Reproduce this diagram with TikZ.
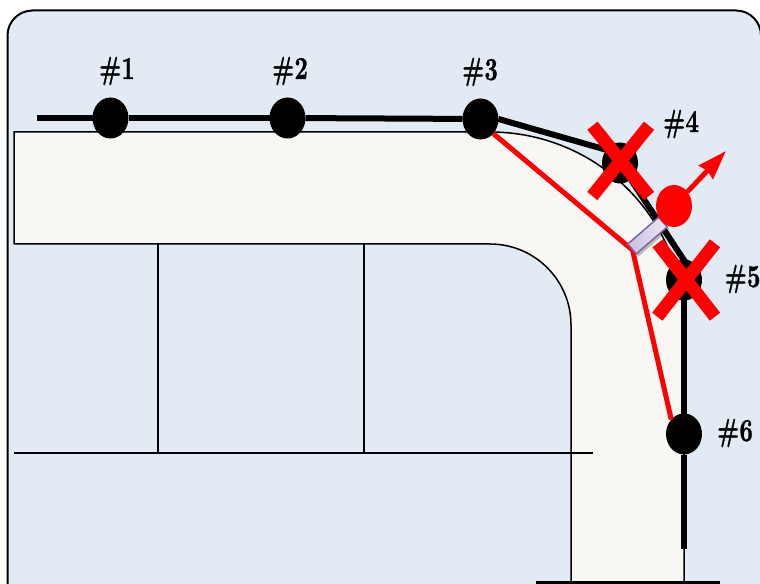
\documentclass[tikz,border=0pt]{standalone}
\usepackage{fontspec}
\usetikzlibrary{shapes.geometric,arrows.meta,shadows}
\newfontfamily\stopfont[BoldFeatures={FakeBold=1.2}]{Latin Modern Roman}
\definecolor{skyfill}{HTML}{E2EAF4}
\definecolor{roadfill}{HTML}{F8F7F3}
\definecolor{padedge}{HTML}{8064A2}
\definecolor{padlo}{HTML}{C9BEE0}
\definecolor{padhi}{HTML}{EDEAF5}
\newcommand{\stoptext}[1]{\scalebox{1.75}[2.4]{#1}}
\tikzset{
  px/.style={line width=#1*0.75pt},
  frameline/.style={draw=black,fill=skyfill,px=2},
  roadline/.style={draw=black,fill=roadfill,px=1.5},
  thinline/.style={draw=black,px=1.5},
  trackline/.style={draw=black,px=6},
  redline/.style={draw=red,px=5},
  crossbar/.style={draw=red,px=13},
  stopdot/.style={ellipse,fill=black,inner sep=0pt,outer sep=0pt,minimum width=36*0.75pt,minimum height=41*0.75pt},
  movingdot/.style={ellipse,fill=red,inner sep=0pt,outer sep=0pt,minimum width=36*0.75pt,minimum height=42*0.75pt},
  stoplabel/.style={inner sep=0pt,font=\stopfont\fontsize{10}{12}\selectfont\bfseries},
  padbox/.style={rectangle,draw=padedge,px=1.5,inner sep=0pt,minimum width=41*0.75pt,minimum height=13*0.75pt,
    left color=padlo,right color=padhi,rotate=41,
    drop shadow={shadow xshift=1.5pt,shadow yshift=-2pt,opacity=.25,fill=black}}
}
\begin{document}
\begin{tikzpicture}[x=0.75pt,y=-0.75pt]
\useasboundingbox (0,0) rectangle (760,584);
\clip (0,0) rectangle (760,584);
% panel
\path[frameline] (7.5,620) -- (7.5,35.5) .. controls (7.5,21.7) and (18.7,10.5) .. (32.5,10.5)
  -- (736,10.5) .. controls (749.8,10.5) and (761,21.7) .. (761,35.5) -- (761,620) -- cycle;
% road
\path[roadline] (14,132) -- (490,132) .. controls (597,132) and (684,218) .. (684,325)
  -- (684,582) -- (571,582) -- (571,325) .. controls (571,280.3) and (534.7,244) .. (490,244)
  -- (14,244) -- cycle;
\coordinate (baseA) at (14,453);
\coordinate (baseB) at (593,453);
\coordinate (postAtop) at (158,244);
\coordinate (postAbot) at (158,453);
\coordinate (postBtop) at (364,244);
\coordinate (postBbot) at (364,453);
\coordinate (groundA) at (536,582);
\coordinate (groundB) at (720,582);
\draw[thinline] (baseA) -- (baseB);
\draw[thinline] (postAtop) -- (postAbot);
\draw[thinline] (postBtop) -- (postBbot);
\draw[draw=black,px=3] (groundA) -- (groundB);
% stops
\node[stopdot] (n1) at (110.5,118) {};
\node[stopdot] (n2) at (287.5,118) {};
\node[stopdot] (n3) at (480.5,119) {};
\node[stopdot] (n4) at (620,163) {};
\node[stopdot] (n5) at (684,280) {};
\node[stopdot] (n6) at (684,434) {};
% track
\coordinate (trackstart) at (37,118);
\coordinate (trackend) at (684,549);
\coordinate (trackturn) at (684.5,261);
\coordinate (trackfour) at (607,150);
\draw[trackline] (trackstart) -- (n1);
\draw[trackline] (n1) -- (n2);
\draw[trackline] (n2) -- (n3);
\draw[trackline] (n3.east) -- (trackfour);
\draw[trackline,line join=round] (n4) -- (trackturn) -- (n5);
\draw[trackline] (n5) -- (n6);
\draw[trackline] (n6) -- (trackend);
% red signal path
\coordinate (bounce) at (632.5,250);
\draw[redline,line join=round] (n3.south east) -- (bounce) -- (n6.north west);
% reflecting pad
\node[padbox] (pad) at (647.5,235.5) {};
% moving dot and its arrow
\node[movingdot] (mover) at (674,206) {};
\coordinate (movertip) at (726,151);
\draw[draw=red,px=5,-{Triangle[length=29*0.75pt,width=19*0.75pt,inset=2*0.75pt]}] (mover) -- (movertip);
% crosses
\coordinate (xa1) at (592.5,125.7);
\coordinate (xa2) at (649,196);
\coordinate (xa3) at (649,125.7);
\coordinate (xa4) at (592.3,196);
\coordinate (xb1) at (657.7,243.3);
\coordinate (xb2) at (715,316.7);
\coordinate (xb3) at (715,243.3);
\coordinate (xb4) at (657.3,316.7);
\draw[crossbar] (xa1) -- (xa2);
\draw[crossbar] (xa3) -- (xa4);
\draw[crossbar] (xb1) -- (xb2);
\draw[crossbar] (xb3) -- (xb4);
% labels
\node[stoplabel] (l1) at (117,71) {\stoptext{\#1}};
\node[stoplabel] (l2) at (290,71) {\stoptext{\#2}};
\node[stoplabel] (l3) at (480,72) {\stoptext{\#3}};
\node[stoplabel] (l4) at (681,124) {\stoptext{\#4}};
\node[stoplabel] (l5) at (742.5,279) {\stoptext{\#5}};
\node[stoplabel] (l6) at (735,433) {\stoptext{\#6}};
\end{tikzpicture}
\end{document}
